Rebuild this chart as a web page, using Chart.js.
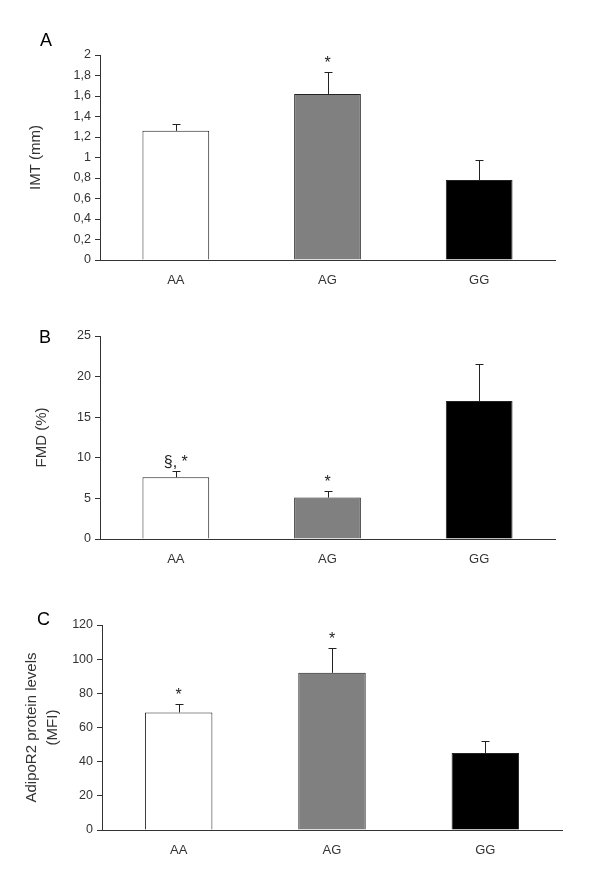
<!DOCTYPE html>
<html>
<head>
<meta charset="utf-8">
<script src="https://cdn.jsdelivr.net/npm/chart.js@4"></script>
<style>
  body { margin: 0; background: #fff; }
  #wrap { position: relative; width: 600px; height: 875px; }
  .panel { position: absolute; left: 0; width: 600px; }
  .letter { position: absolute; font: 18px "Liberation Sans", Arial, sans-serif; color: #000; }
</style>
</head>
<body>
<div id="wrap">
  <div class="panel" style="top:0;height:290px"><canvas id="chartA"></canvas></div>
  <div class="panel" style="top:290px;height:290px"><canvas id="chartB"></canvas></div>
  <div class="panel" style="top:580px;height:295px"><canvas id="chartC"></canvas></div>
  <div class="letter" style="left:40px;top:30px">A</div>
  <div class="letter" style="left:39px;top:327px">B</div>
  <div class="letter" style="left:37px;top:609px">C</div>
</div>
<script>
// genotype groups
const genotypes = ['AA', 'AG', 'GG'];
const barColors = ['#ffffff', '#808080', '#000000'];

// panel A: IMT
const imtValues = [1.26, 1.62, 0.78];
const imtErrors = [0.07, 0.21, 0.20];
const imtMarks = ['', '*', ''];

// panel B: FMD
const fmdValues = [7.6, 5.1, 17.0];
const fmdErrors = [0.8, 0.8, 4.6];
const fmdMarks = ['§, *', '*', ''];

// panel C: AdipoR2
const adipoValues = [68.8, 92.0, 45.1];
const adipoErrors = [5.2, 14.5, 7.2];
const adipoMarks = ['*', '*', ''];

const FONT = '"Liberation Sans", Arial, sans-serif';
const AXIS_COLOR = '#333333';

/**
 * Draws upper error bars and significance marks over each bar
 */
const errorBarPlugin = {
  id: 'errorBars',
  afterDatasetsDraw(chart, args, opts) {
    const ctx = chart.ctx;
    const meta = chart.getDatasetMeta(0);
    const yScale = chart.scales.y;
    const values = chart.data.datasets[0].data;
    ctx.save();
    ctx.strokeStyle = '#222';
    ctx.lineWidth = 1;
    meta.data.forEach((bar, i) => {
      const x = Math.round(bar.x) + 0.5;
      const yBase = yScale.getPixelForValue(values[i]);
      const yTop = Math.round(yScale.getPixelForValue(values[i] + opts.errors[i])) + 0.5;
      ctx.beginPath();
      ctx.moveTo(x, yBase);
      ctx.lineTo(x, yTop);
      ctx.moveTo(x - 4, yTop);
      ctx.lineTo(x + 4, yTop);
      ctx.stroke();
      if (opts.marks[i]) {
        ctx.fillStyle = '#222';
        ctx.font = '16px ' + FONT;
        ctx.textAlign = 'center';
        ctx.textBaseline = 'alphabetic';
        ctx.fillText(opts.marks[i], bar.x, yTop - 5);
      }
    });
    ctx.restore();
  }
};

function commaFormat(value) {
  return String(Number(value.toFixed(1))).replace('.', ',');
}

function makeChart(id, values, errors, marks, yOpts, axisTitle, padding, yWidth) {
  const ctx = document.getElementById(id).getContext('2d');
  return new Chart(ctx, {
    type: 'bar',
    data: {
      labels: genotypes,
      datasets: [{
        data: values,
        backgroundColor: barColors,
        borderColor: '#222222',
        borderWidth: 1,
        barPercentage: 0.44,
        categoryPercentage: 1.0
      }]
    },
    options: {
      responsive: true,
      maintainAspectRatio: false,
      animation: false,
      layout: { padding: padding },
      plugins: {
        legend: { display: false },
        tooltip: { enabled: false },
        errorBars: { errors: errors, marks: marks }
      },
      scales: {
        x: {
          grid: { display: false },
          border: { display: true, color: AXIS_COLOR, width: 1 },
          ticks: { color: '#333', font: { family: FONT, size: 13 }, padding: 5 },
          afterFit: (scale) => { scale.height = 30; }
        },
        y: {
          min: yOpts.min,
          max: yOpts.max,
          grid: {
            drawOnChartArea: false,
            drawTicks: true,
            tickLength: 5,
            color: AXIS_COLOR
          },
          border: { display: true, color: AXIS_COLOR, width: 1 },
          ticks: {
            stepSize: yOpts.step,
            color: '#333',
            padding: 4,
            font: { family: FONT, size: 12.5 },
            callback: yOpts.format || (v => v)
          },
          title: {
            display: true,
            text: axisTitle,
            color: '#333',
            font: { family: FONT, size: 15, lineHeight: 1.4 },
            padding: { top: yOpts.titlePad, bottom: 0 }
          },
          afterFit: (scale) => { scale.width = yWidth; }
        }
      }
    },
    plugins: [errorBarPlugin]
  });
}

makeChart('chartA', imtValues, imtErrors, imtMarks,
  { min: 0, max: 2, step: 0.2, format: commaFormat, titlePad: 25 },
  'IMT (mm)', { top: 55, right: 45, bottom: 0, left: 0 }, 100);

makeChart('chartB', fmdValues, fmdErrors, fmdMarks,
  { min: 0, max: 25, step: 5, titlePad: 31 },
  'FMD (%)', { top: 46, right: 45, bottom: 11, left: 0 }, 100);

makeChart('chartC', adipoValues, adipoErrors, adipoMarks,
  { min: 0, max: 120, step: 20, titlePad: 21 },
  ['AdipoR2 protein levels', '(MFI)'], { top: 45, right: 38, bottom: 15, left: 0 }, 102);
</script>
</body>
</html>
